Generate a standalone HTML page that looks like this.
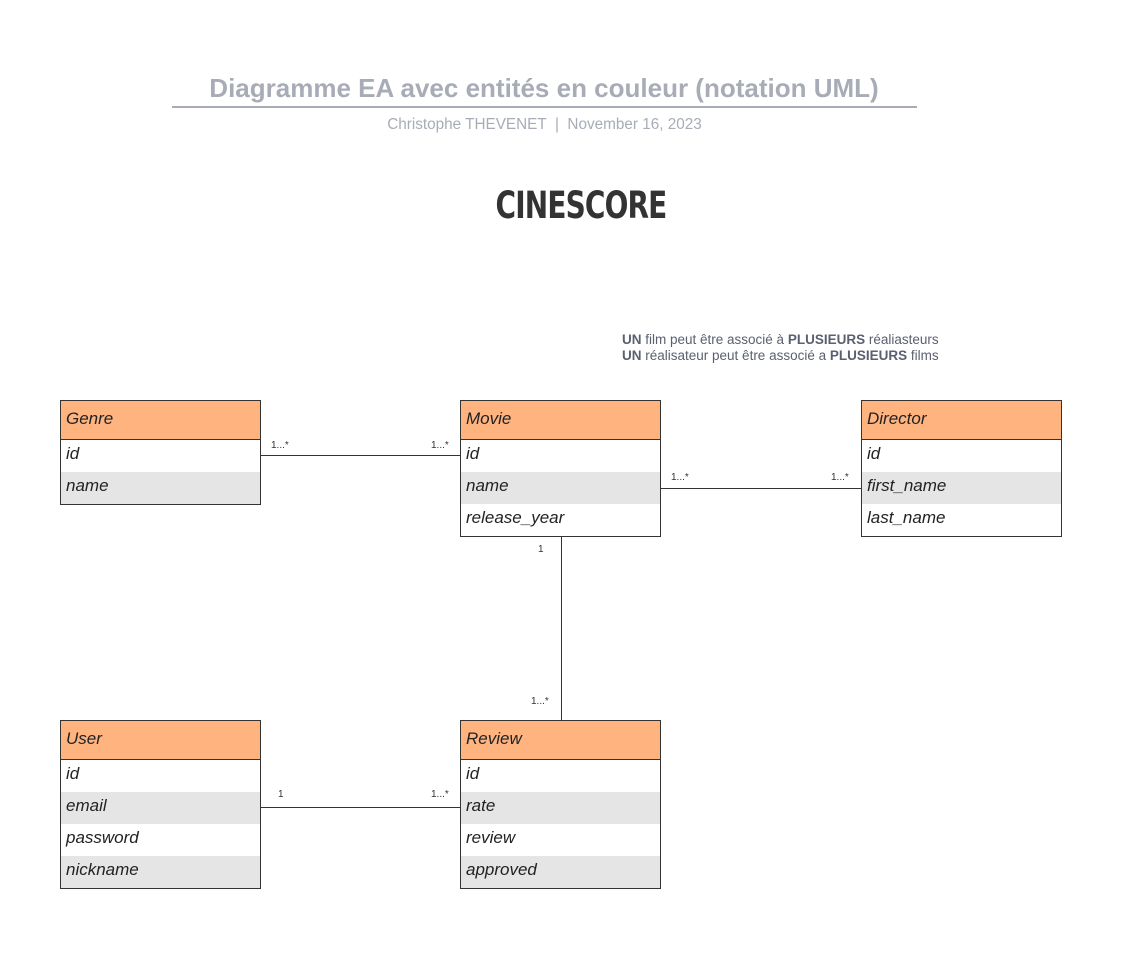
<!DOCTYPE html>
<html><head><meta charset="utf-8"><style>
body{margin:0;width:1132px;height:955px;background:#fff;position:relative;font-family:"Liberation Sans",sans-serif;overflow:hidden}
.abs{position:absolute}
.t{left:0;width:1088px;text-align:center;top:73px;font-size:26px;font-weight:bold;color:#a7acb6}
.sub{left:0;width:1089px;text-align:center;top:116px;font-size:15.3px;color:#a7acb6}
.box{position:absolute;width:199px;border:1px solid #333;background:#fff}
.h{height:38px;background:#ffb480;border-bottom:1px solid #333;font-style:italic;font-size:17px;color:#222;line-height:36px;padding-left:5px}
.r{height:32px;font-style:italic;font-size:17px;color:#222;line-height:28px;padding-left:5px}
.g{background:#e5e5e5}
.lbl{position:absolute;font-size:10px;color:#333}
.ln{position:absolute;background:#333}
</style></head><body>
<div class="abs t">Diagramme EA avec entités en couleur (notation UML)</div>
<div class="abs" style="left:172px;top:106px;width:745px;height:2px;background:#a7acb6"></div>
<div class="abs sub">Christophe THEVENET &nbsp;|&nbsp; November 16, 2023</div>
<div class="abs" style="left:470px;width:222px;text-align:center;top:184px;font-family:'DejaVu Sans Condensed','DejaVu Sans',sans-serif;font-weight:bold;font-size:37px;color:#333;transform:scaleX(0.84);letter-spacing:-1px">CINESCORE</div>
<div class="abs" style="left:622px;top:332px;font-size:13.5px;color:#5b6070;line-height:16px"><b>UN</b> film peut être associé à <b>PLUSIEURS</b> réaliasteurs<br><b>UN</b> réalisateur peut être associé a <b>PLUSIEURS</b> films</div>

<div class="box" style="left:60px;top:400px"><div class="h">Genre</div><div class="r">id</div><div class="r g">name</div></div>
<div class="box" style="left:460px;top:400px"><div class="h">Movie</div><div class="r">id</div><div class="r g">name</div><div class="r">release_year</div></div>
<div class="box" style="left:861px;top:400px"><div class="h">Director</div><div class="r">id</div><div class="r g">first_name</div><div class="r">last_name</div></div>
<div class="box" style="left:60px;top:720px"><div class="h">User</div><div class="r">id</div><div class="r g">email</div><div class="r">password</div><div class="r g">nickname</div></div>
<div class="box" style="left:460px;top:720px"><div class="h">Review</div><div class="r">id</div><div class="r g">rate</div><div class="r">review</div><div class="r g">approved</div></div>

<div class="ln" style="left:261px;top:455px;width:199px;height:1px"></div>
<div class="ln" style="left:661px;top:488px;width:200px;height:1px"></div>
<div class="ln" style="left:561px;top:537px;width:1px;height:183px"></div>
<div class="ln" style="left:261px;top:807px;width:199px;height:1px"></div>

<div class="lbl" style="left:271px;top:440px">1...*</div>
<div class="lbl" style="left:431px;top:440px">1...*</div>
<div class="lbl" style="left:671px;top:472px">1...*</div>
<div class="lbl" style="left:831px;top:472px">1...*</div>
<div class="lbl" style="left:538px;top:544px">1</div>
<div class="lbl" style="left:531px;top:696px">1...*</div>
<div class="lbl" style="left:278px;top:789px">1</div>
<div class="lbl" style="left:431px;top:789px">1...*</div>
</body></html>
